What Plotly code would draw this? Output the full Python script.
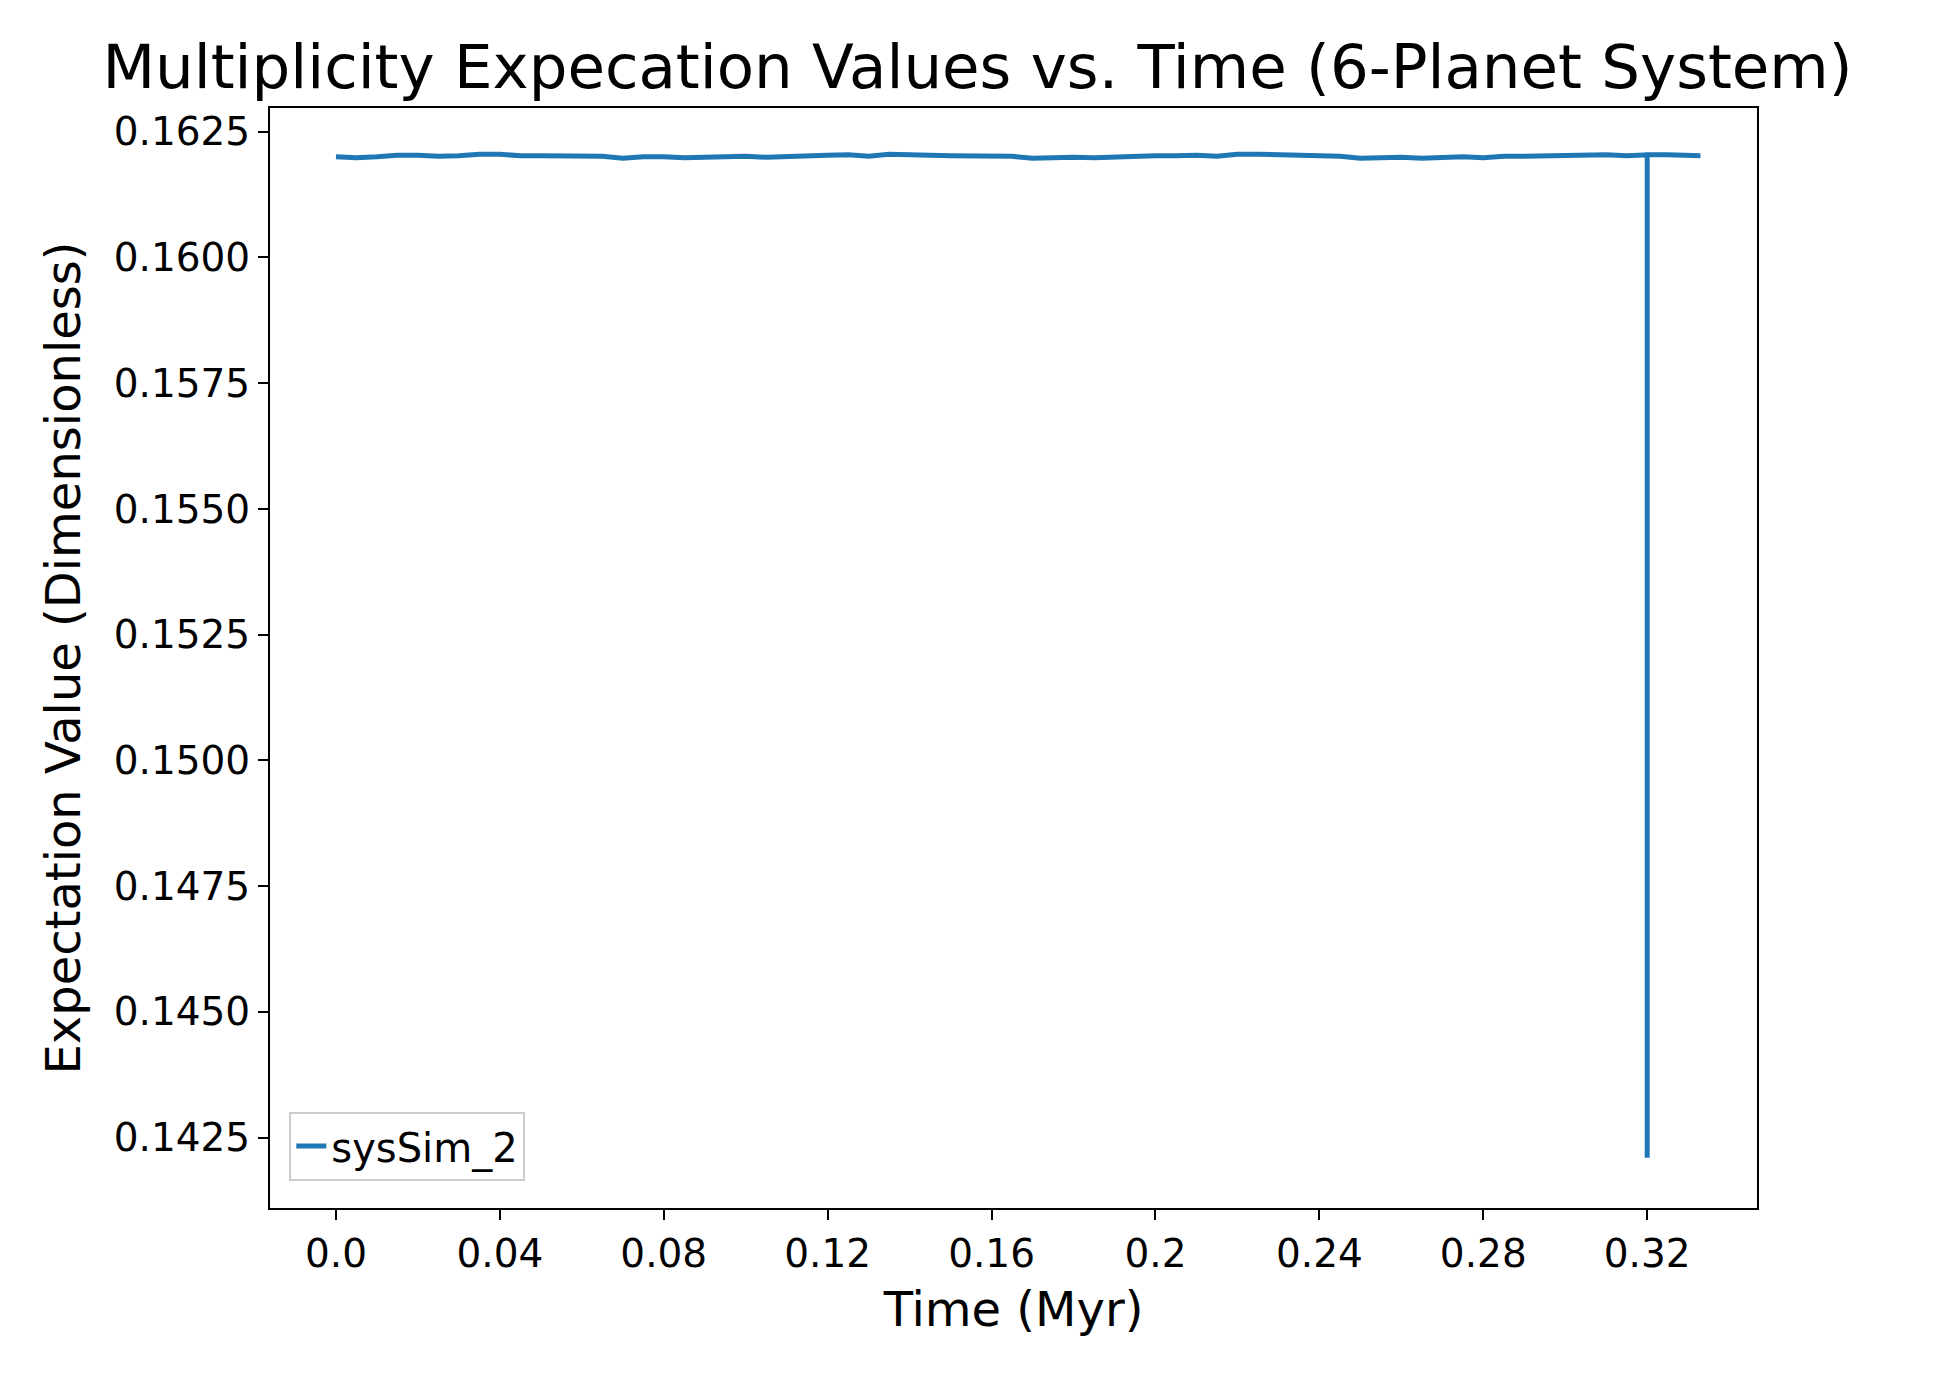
import plotly.graph_objects as go

# time samples (Myr) and expectation values for sysSim_2
time_myr = [0.000, 0.005, 0.010, 0.015, 0.020, 0.025, 0.030, 0.035, 0.040, 0.045,
            0.050, 0.055, 0.060, 0.065, 0.070, 0.075, 0.080, 0.085, 0.090, 0.095,
            0.100, 0.105, 0.110, 0.115, 0.120, 0.125, 0.130, 0.135, 0.140, 0.145,
            0.150, 0.155, 0.160, 0.165, 0.170, 0.175, 0.180, 0.185, 0.190, 0.195,
            0.200, 0.205, 0.210, 0.215, 0.220, 0.225, 0.230, 0.235, 0.240, 0.245,
            0.250, 0.255, 0.260, 0.265, 0.270, 0.275, 0.280, 0.285, 0.290, 0.295,
            0.300, 0.305, 0.310, 0.315, 0.320, 0.320, 0.320, 0.325, 0.330, 0.333]
exp_value = [0.16200, 0.16198, 0.16200, 0.16203, 0.16203, 0.16201, 0.16202, 0.16205, 0.16205, 0.16202,
             0.16202, 0.16202, 0.16200, 0.16201, 0.16197, 0.16200, 0.16200, 0.16198, 0.16199, 0.16201,
             0.16201, 0.16199, 0.16201, 0.16203, 0.16203, 0.16204, 0.16201, 0.16205, 0.16205, 0.16203,
             0.16202, 0.16202, 0.16200, 0.16201, 0.16197, 0.16199, 0.16199, 0.16198, 0.16200, 0.16201,
             0.16202, 0.16202, 0.16203, 0.16201, 0.16205, 0.16205, 0.16204, 0.16201, 0.16201, 0.16201,
             0.16197, 0.16199, 0.16199, 0.16197, 0.16199, 0.16200, 0.16198, 0.16201, 0.16201, 0.16202,
             0.16201, 0.16204, 0.16204, 0.16202, 0.16204, 0.14210, 0.16204, 0.16204, 0.16204, 0.16202]

x_ticks = [0.0, 0.04, 0.08, 0.12, 0.16, 0.2, 0.24, 0.28, 0.32]
x_tick_text = ["0.0", "0.04", "0.08", "0.12", "0.16", "0.2", "0.24", "0.28", "0.32"]
y_ticks = [0.1425, 0.1450, 0.1475, 0.1500, 0.1525, 0.1550, 0.1575, 0.1600, 0.1625]

font = "DejaVu Sans"

fig = go.Figure(go.Scatter(
    x=time_myr, y=exp_value, mode="lines", name="sysSim_2",
    line=dict(color="#1f77b4", width=5),
))

axis = dict(showgrid=False, zeroline=False, showline=True, linecolor="black", linewidth=2,
            mirror=True, ticks="outside", ticklen=10, tickwidth=2, tickcolor="black",
            tickfont=dict(family=font, size=39, color="black"))

fig.update_layout(
    width=1939, height=1374,
    paper_bgcolor="white", plot_bgcolor="white",
    margin=dict(l=262, r=190, t=100, b=174),
    title=dict(text="Multiplicity Expecation Values vs. Time (6-Planet System)",
               x=0.5, xanchor="center", y=0.957, yanchor="middle",
               font=dict(family=font, size=61, color="black")),
    xaxis=dict(axis, range=[-0.0161, 0.3468], tickvals=x_ticks, ticktext=x_tick_text,
               title=dict(text="Time (Myr)", font=dict(family=font, size=48, color="black"), standoff=18)),
    yaxis=dict(axis, range=[0.1411, 0.16297], tickvals=y_ticks, tickformat=".4f",
               title=dict(text="Expectation Value (Dimensionless)", font=dict(family=font, size=48, color="black"), standoff=18)),
    legend=dict(x=0.013, y=0.025, xanchor="left", yanchor="bottom",
                bgcolor="white", bordercolor="#cccccc", borderwidth=2,
                font=dict(family=font, size=40, color="black")),
    showlegend=True,
)

fig.write_html("out.html")
